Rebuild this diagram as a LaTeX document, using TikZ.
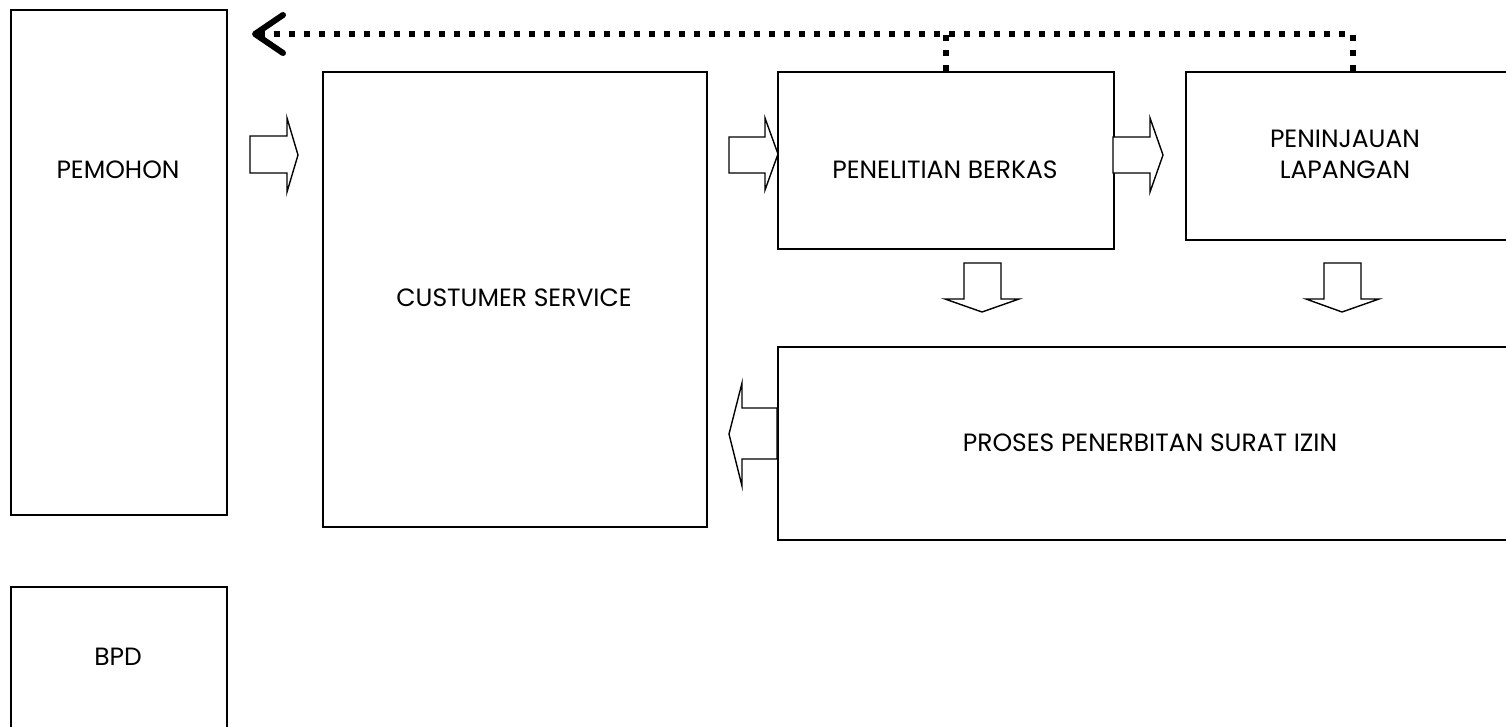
\documentclass[tikz,border=0pt]{standalone}
\usepackage{fontspec}
\setmainfont{Poppins}
\usetikzlibrary{arrows.meta}
\tikzset{
  box/.style={draw=black, line width=1.6pt, fill=white, anchor=north west, inner sep=0pt},
  txt/.style={font=\fontsize{25}{31}\selectfont, align=center, inner sep=0pt},
  blk/.style={draw=black, line width=1.4pt, fill=white, line join=miter},
  dotline/.style={line width=6pt, dash pattern=on 6pt off 9pt},
}
\begin{document}
\begin{tikzpicture}[x=1pt, y=-1pt]
\useasboundingbox (0,0) rectangle (1506,726);
\clip (0,0) rectangle (1506,726);
% boxes
\node[box, minimum width=216pt, minimum height=505pt] (pemohon) at (10,9) {};
\node[box, minimum width=216pt, minimum height=200pt] (bpd) at (10,586) {};
\node[box, minimum width=384pt, minimum height=455pt] (cs) at (322,71) {};
\node[box, minimum width=336pt, minimum height=177pt] (pb) at (777,71) {};
\node[box, minimum width=330pt, minimum height=168pt] (pl) at (1185,71) {};
\node[box, minimum width=750pt, minimum height=193pt] (pps) at (777,346) {};
% texts
\node[txt] (tpemohon) at (118,170) {PEMOHON};
\node[txt] (tbpd) at (118,657) {BPD};
\node[txt] (tcs) at (514,298) {CUSTUMER SERVICE};
\node[txt] (tpb) at (945,170) {PENELITIAN BERKAS};
\node[txt] (tpl) at (1345,154) {PENINJAUAN\\LAPANGAN};
\node[txt] (tpps) at (1150,443) {PROSES PENERBITAN SURAT IZIN};
% block arrows
\draw[blk] (250,136) -- (287,136) -- (287,118) -- (298,155) -- (287,192) -- (287,173) -- (250,173) -- cycle;
\draw[blk] (729,137) -- (765,137) -- (765,118) -- (778,154) -- (765,190) -- (765,173) -- (729,173) -- cycle;
\draw[blk] (1113,137) -- (1150,137) -- (1150,118) -- (1163,155) -- (1150,192) -- (1150,173) -- (1113,173) -- cycle;
\draw[blk] (964,263) -- (1001,263) -- (1001,299) -- (1019,299) -- (982,312) -- (945,299) -- (964,299) -- cycle;
\draw[blk] (1324,263) -- (1361,263) -- (1361,299) -- (1379,299) -- (1342,312) -- (1306,299) -- (1324,299) -- cycle;
\draw[blk] (777,408) -- (742,408) -- (742,383) -- (729,434) -- (742,486) -- (742,459) -- (777,459) -- cycle;
% dotted return connector
\coordinate (ret) at (252,34);
\coordinate (pltop) at ([xshift=168pt]pl.north west);
\coordinate (pbtop) at ([xshift=169pt]pb.north west);
\draw[dotline, -{Straight Barb[length=28pt, width=38pt, line cap=round, line join=round]}] (pltop) |- (ret);
\draw[dotline] (pbtop) -- (pbtop |- ret);
\end{tikzpicture}
\end{document}
